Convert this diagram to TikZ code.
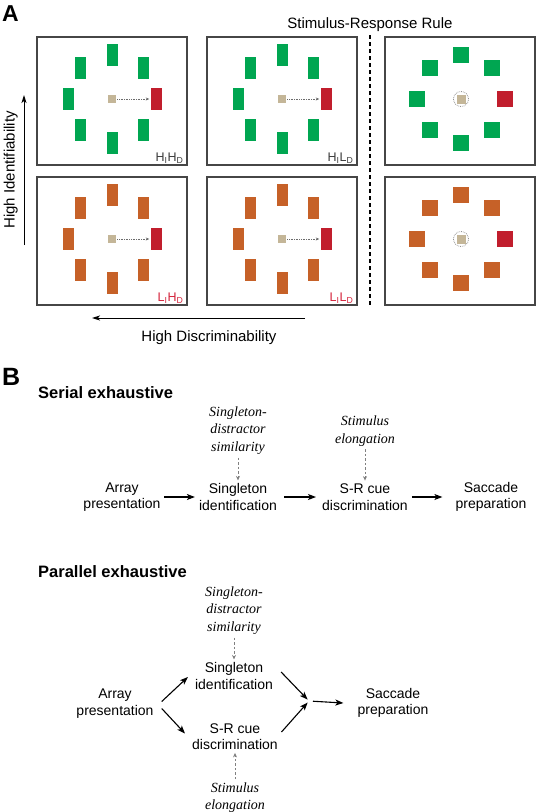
\documentclass[tikz,border=0pt]{standalone}
\usepackage{fontspec}
\setmainfont{Liberation Sans}
\newfontfamily\serifit{Liberation Serif}
\usetikzlibrary{arrows.meta,calc}
\definecolor{stgreen}{RGB}{0,166,81}
\definecolor{storange}{RGB}{198,97,40}
\definecolor{tgtred}{RGB}{193,30,45}
\definecolor{fixbeige}{RGB}{196,182,152}
\definecolor{boxgray}{RGB}{70,70,70}
\definecolor{labgray}{RGB}{60,60,60}
\definecolor{labred}{RGB}{212,36,60}
\newcommand{\rectarray}[4]{%
  \foreach \ang in {45,90,135,180,225,270,315}{
    \node[rstim, fill=#4] (#1d\ang) at ([shift={(\ang:44)}]#2,#3) {};
  }
  \node[rstim, fill=tgtred] (#1t) at ([shift={(0:44)}]#2,#3) {};
  \node[fixsq] (#1c) at (#2,#3) {};
  \draw[dotarr] (#1c) -- (#1t);
}
\newcommand{\sqarray}[4]{%
  \foreach \ang in {45,90,135,180,225,270,315}{
    \node[sqstim, fill=#4] (#1d\ang) at ([shift={(\ang:44)}]#2,#3) {};
  }
  \node[sqstim, fill=tgtred] (#1t) at ([shift={(0:44)}]#2,#3) {};
  \node[fixsq, minimum size=9pt] (#1c) at (#2,#3) {};
  \node[fixring] (#1r) at (#2,#3) {};
}
\begin{document}
\begin{tikzpicture}[x=1pt,y=-1pt,
  panel/.style={draw=boxgray, line width=1.2pt, minimum width=150pt, minimum height=128pt, inner sep=0pt},
  rstim/.style={inner sep=0pt, minimum width=11pt, minimum height=22pt},
  sqstim/.style={inner sep=0pt, minimum size=16pt},
  fixsq/.style={fill=fixbeige, inner sep=0pt, minimum size=8pt},
  fixring/.style={circle, draw=gray!85, densely dotted, line width=0.8pt, minimum size=15pt, inner sep=0pt},
  dotarr/.style={draw=gray!85!black, densely dotted, line width=0.7pt, -{Stealth[length=3.5pt,width=3pt]}, shorten >=1pt, shorten <=1pt},
  lbl/.style={font=\fontsize{14}{16.5}\selectfont, align=center, inner sep=2pt},
  fac/.style={font=\serifit\itshape\fontsize{14}{17.5}\selectfont, align=center, inner sep=2pt, text=black},
  arr/.style={line width=1.1pt, -{Stealth[length=8pt,width=6pt,inset=2pt]}},
  axarr/.style={line width=0.9pt, -{Stealth[length=8pt,width=5pt,inset=2pt]}},
  dasharr/.style={draw=gray, line width=0.8pt, dash pattern=on 2.5pt off 2pt, -{Stealth[length=4.5pt,width=4pt]}, shorten <=1pt, shorten >=1pt},
  cond/.style={font=\fontsize{12.5}{14}\selectfont, inner sep=0pt, anchor=south east},
  title/.style={font=\bfseries\fontsize{16.5}{19}\selectfont, anchor=base west, inner sep=0pt},
  big/.style={font=\bfseries\fontsize{23}{26}\selectfont, anchor=base west, inner sep=0pt}
]
\useasboundingbox (0,0) rectangle (536,812);

% ---------- Panel A ----------
\node[big] (labA) at (2,21) {A};
\node[font=\fontsize{15}{18}\selectfont, anchor=base, inner sep=0pt] (srr) at (370,28) {Stimulus-Response Rule};

\node[panel] (b1) at (112,101) {};
\node[panel] (b2) at (282,101) {};
\node[panel] (b3) at (460,101) {};
\node[panel] (b4) at (112,241) {};
\node[panel] (b5) at (282,241) {};
\node[panel] (b6) at (460,241) {};

\rectarray{a}{112}{99}{stgreen}
\rectarray{b}{282}{99}{stgreen}
\sqarray{c}{461}{99}{stgreen}
\rectarray{d}{112}{239}{storange}
\rectarray{e}{282}{239}{storange}
\sqarray{f}{461}{239}{storange}

\node[cond, text=labgray] (l1) at ([shift={(-4,-2)}]b1.south east) {H\textsubscript{I}H\textsubscript{D}};
\node[cond, text=labgray] (l2) at ([shift={(-4,-2)}]b2.south east) {H\textsubscript{I}L\textsubscript{D}};
\node[cond, text=labred] (l4) at ([shift={(-4,-2)}]b4.south east) {L\textsubscript{I}H\textsubscript{D}};
\node[cond, text=labred] (l5) at ([shift={(-4,-2)}]b5.south east) {L\textsubscript{I}L\textsubscript{D}};

\coordinate (sep0) at (370,35);
\coordinate (sep1) at (370,305);
\draw[line width=2.5pt, dash pattern=on 4pt off 3pt] (sep0) -- (sep1);

\coordinate (hi0) at (24,245);
\coordinate (hi1) at (24,95);
\draw[axarr] (hi0) -- (hi1);
\node[font=\fontsize{15}{18}\selectfont, rotate=90, anchor=base, inner sep=0pt] (hitext) at (14.5,170) {High Identifiability};

\coordinate (hd0) at (305,318);
\coordinate (hd1) at (92,318);
\draw[axarr] (hd0) -- (hd1);
\node[font=\fontsize{15}{18}\selectfont, anchor=base, inner sep=0pt] (hdtext) at (209,341) {High Discriminability};

% ---------- Panel B ----------
\node[big, font=\bfseries\fontsize{25}{28}\selectfont] (labB) at (2,385) {B};
\node[title] (ser) at (38,398) {Serial exhaustive};

\node[lbl] (sarr) at (122,497) {Array\\presentation};
\node[lbl] (ssing) at (238,497) {Singleton\\identification};
\node[lbl] (ssr) at (365,497) {S-R cue\\discrimination};
\node[lbl] (ssac) at (491,497) {Saccade\\preparation};
\node[fac] (sf1) at (238,430.5) {Singleton-\\distractor\\similarity};
\node[fac] (sf2) at (365,431) {Stimulus\\elongation};

\draw[arr, shorten <=1.5pt, shorten >=2pt] (sarr) -- (ssing);
\draw[arr, shorten <=5pt, shorten >=4pt] (ssing) -- (ssr);
\draw[arr, shorten <=2pt, shorten >=11pt] (ssr) -- (ssac);
\draw[dasharr] (sf1) -- (ssing);
\draw[dasharr] (sf2) -- (ssr);

\node[title] (par) at (38,577) {Parallel exhaustive};

\node[fac] (pf1) at (234,610.5) {Singleton-\\distractor\\similarity};
\node[lbl] (psing) at (234,676) {Singleton\\identification};
\node[lbl] (parr) at (115,703.5) {Array\\presentation};
\node[lbl] (psr) at (235,736.5) {S-R cue\\discrimination};
\node[fac] (pf2) at (235,797.5) {Stimulus\\elongation};
\node[lbl] (psac) at (393,703) {Saccade\\preparation};
\coordinate (m) at (309,701);

\draw[arr] ([shift={(6,-2)}]parr.east) -- ([shift={(-5,1)}]psing.west);
\draw[arr] ([shift={(6,5)}]parr.east) -- ([shift={(-5,-3)}]psr.west);
\draw[arr, shorten >=2pt] ([shift={(6,-4)}]psing.east) -- (m);
\draw[arr, shorten >=2pt] ([shift={(1.5,-4.5)}]psr.east) -- (m);
\draw[arr, shorten <=4pt] (m) -- ([xshift=-12pt]psac.west);
\draw[dasharr] (pf1) -- (psing);
\draw[dasharr] (pf2) -- (psr);
\end{tikzpicture}
\end{document}
